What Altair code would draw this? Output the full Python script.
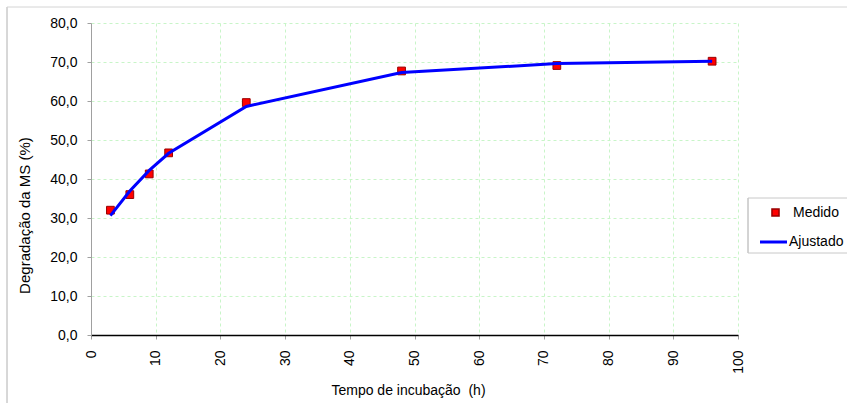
import altair as alt
import pandas as pd

tempo = [3, 6, 9, 12, 24, 48, 72, 96]
medido = [32.0, 36.0, 41.3, 46.7, 59.6, 67.7, 69.1, 70.2]
ajustado = [30.6, 36.9, 42.2, 46.6, 58.6, 67.3, 69.6, 70.2]
series_names = ["Medido", "Ajustado"]
series_colors = ["#ff0000", "#0000ff"]
x_ticks = list(range(0, 101, 10))
y_ticks = list(range(0, 81, 10))

rows = [{"tempo": t, "deg": v, "serie": "Medido"} for t, v in zip(tempo, medido)]
rows += [{"tempo": t, "deg": v, "serie": "Ajustado"} for t, v in zip(tempo, ajustado)]
df = pd.DataFrame(rows)

FONT = "Liberation Sans"

legend_common = dict(
    title=None, orient="none", padding=0,
    labelFont=FONT, labelFontSize=14, labelColor="black", symbolOpacity=1,
)
legend_medido = alt.Legend(
    legendX=677.5, legendY=182.5, symbolSize=50, labelOffset=10.5,
    symbolType="square", **legend_common,
)
legend_ajustado = alt.Legend(
    legendX=667.5, legendY=204, symbolSize=729, labelOffset=0.5,
    symbolType="stroke", symbolStrokeWidth=3, **legend_common,
)

x_enc = alt.X(
    "tempo:Q",
    scale=alt.Scale(domain=[0, 100], nice=False),
    axis=alt.Axis(
        values=x_ticks, title="Tempo de incubação\u00a0 (h)", labelAngle=270,
        labelFont=FONT, labelFontSize=14, labelColor="black", labelPadding=11,
        domainColor="black", domainWidth=1.5, tickColor="#a0a0a0", tickSize=4,
        titleFont=FONT, titleFontSize=14, titleFontWeight="normal", titleColor="black",
        titleX=317, titleY=59, titleBaseline="alphabetic", titleAlign="center",
        gridColor="#c8f5c8", gridDash=[3, 3], gridWidth=1,
    ),
)
y_enc = alt.Y(
    "deg:Q",
    scale=alt.Scale(domain=[0, 80], nice=False),
    axis=alt.Axis(
        values=y_ticks, title="Degradação da MS (%)",
        labelExpr="replace(format(datum.value, '.1f'), '.', ',')",
        labelFont=FONT, labelFontSize=14, labelColor="black", labelPadding=10,
        domainColor="#a0a0a0", domainWidth=1, tickColor="#a0a0a0", tickSize=4,
        titleFont=FONT, titleFontSize=15, titleFontWeight="normal", titleColor="black",
        titleAngle=270, titleX=-62, titleY=192, titleBaseline="alphabetic", titleAlign="center",
        gridColor="#c8f5c8", gridDash=[3, 3], gridWidth=1,
    ),
)

points = alt.Chart(df).transform_filter(alt.datum.serie == "Medido").mark_point(
    shape="square", filled=True, size=60, opacity=1, stroke="#990000", strokeWidth=1
).encode(
    x=x_enc, y=y_enc,
    fill=alt.Fill("serie:N", scale=alt.Scale(domain=series_names[:1], range=series_colors[:1]),
                  legend=legend_medido),
)

line = alt.Chart(df).transform_filter(alt.datum.serie == "Ajustado").mark_line(
    strokeWidth=3
).encode(
    x=x_enc, y=y_enc,
    stroke=alt.Stroke("serie:N", scale=alt.Scale(domain=series_names[1:], range=series_colors[1:]),
                      legend=legend_ajustado),
)

one = alt.Data(values=[{"k": 1}])
frame_left = alt.Chart(one).mark_rule(color="#b0b0b0", strokeWidth=1).encode(
    x=alt.value(-84), y=alt.value(-16), y2=alt.value(380)
)
frame_top = alt.Chart(one).mark_rule(color="#d4d4d4", strokeWidth=1).encode(
    x=alt.value(-84), x2=alt.value(756), y=alt.value(-16)
)
box_left = alt.Chart(one).mark_rule(color="#a8a8a8", strokeWidth=1).encode(
    x=alt.value(657), y=alt.value(175), y2=alt.value(230)
)
box_top = alt.Chart(one).mark_rule(color="#c8c8c8", strokeWidth=1).encode(
    x=alt.value(657), x2=alt.value(756), y=alt.value(175)
)
box_bottom = alt.Chart(one).mark_rule(color="#c8c8c8", strokeWidth=1).encode(
    x=alt.value(657), x2=alt.value(756), y=alt.value(230)
)

chart = alt.layer(frame_left, frame_top, box_left, box_top, box_bottom, points, line).resolve_scale(
    fill="independent", stroke="independent"
).properties(
    width=647, height=312,
    padding={"left": 91, "top": 23, "right": 109, "bottom": 68},
    autosize=alt.AutoSizeParams(type="none"),
    background="white",
).configure_view(stroke="transparent")

chart.save("out.html", embed_options={"renderer": "svg", "actions": False})
